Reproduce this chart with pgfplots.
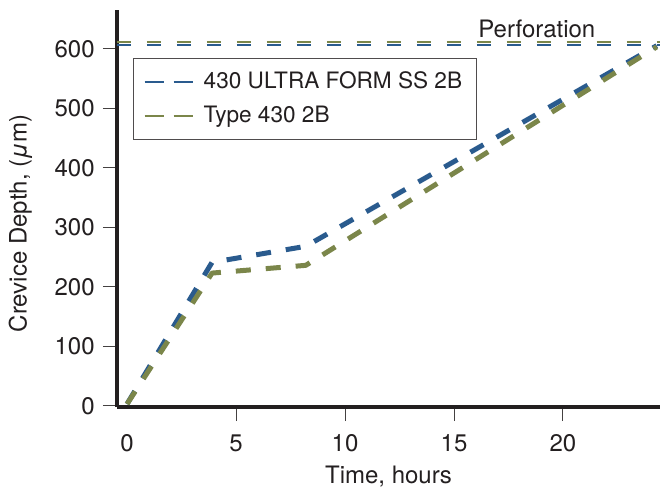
\documentclass[border=0pt]{standalone}
\usepackage{fontspec}
\setmainfont{TeX Gyre Heros}
\usepackage{pgfplots}
\pgfplotsset{compat=1.18}
\definecolor{ublue}{HTML}{2A5B8E}
\definecolor{ugreen}{HTML}{7B864A}
\definecolor{axc}{HTML}{231F20}
\begin{document}
\fontsize{12}{14}\selectfont
\begin{tikzpicture}
\useasboundingbox (-58.5pt,-41pt) rectangle (271.5pt,203.5pt);
\begin{axis}[
  at={(0,0)}, anchor=south west,
  scale only axis, width=271.5pt, height=198.5pt,
  xmin=-0.46, xmax=24.45, ymin=-2, ymax=665,
  axis x line*=bottom, axis y line*=left,
  axis line style={line width=2pt, draw=axc, -},
  tick align=outside,
  major tick length=7pt,
  tick style={line width=0.5pt, draw=axc!85},
  xtick={5,10,15,20},
  extra x ticks={0},
  extra x tick style={tick style={draw=none}},
  ytick={0,100,...,600},
  /pgf/number format/assume math mode=true,
  ticklabel style={font=\fontsize{12}{14}\selectfont, text=axc},
  xticklabel style={yshift=-2.5pt},
  xlabel={Time, hours},
  ylabel={Crevice Depth, (\textit{μ}m)},
  label style={font=\fontsize{12}{14}\selectfont, text=axc},
  xlabel style={at={(axis description cs:0.5,0)}, anchor=center, yshift=-35pt},
  ylabel style={at={(ticklabel cs:0.462)}, yshift=3pt},
  legend cell align=left,
  legend style={at={(rel axis cs:0.0295,0.879)}, anchor=north west,
    draw=axc!80, line width=0.5pt, font=\fontsize{11.3}{13}\selectfont,
    text=axc, inner xsep=5pt, inner ysep=4.5pt, row sep=3pt},
  legend image post style={line width=1.1pt, dash pattern=on 7pt off 7.5pt},
  legend image code/.code={%
    \path (0pt,0pt) -- (27pt,0pt);
    \draw[#1] (2.5pt,0pt) -- (24pt,0pt);},
]
\addplot[ugreen, line width=0.75pt, dash pattern=on 7pt off 8pt, forget plot] coordinates {(-0.46,611) (24.45,611)};
\addplot[ublue, line width=0.75pt, dash pattern=on 7pt off 8pt, forget plot] coordinates {(-0.46,606) (24.45,606)};
\addplot[ublue, line width=2.5pt, dash pattern=on 7.5pt off 7.5pt, line join=round] coordinates {
  (0,3) (3.9,241) (8.2,268) (24.3,605)
};
\addlegendentry{430 ULTRA FORM SS 2B}
\addplot[ugreen, line width=2.5pt, dash pattern=on 7.5pt off 7.5pt, line join=round] coordinates {
  (0,3) (3.9,223) (8.2,236) (24.3,603)
};
\addlegendentry{Type 430 2B}
\node[anchor=base, text=axc, font=\fontsize{12}{14}\selectfont] at (axis cs:18.8,619) {Perforation};
\end{axis}
\end{tikzpicture}
\end{document}
